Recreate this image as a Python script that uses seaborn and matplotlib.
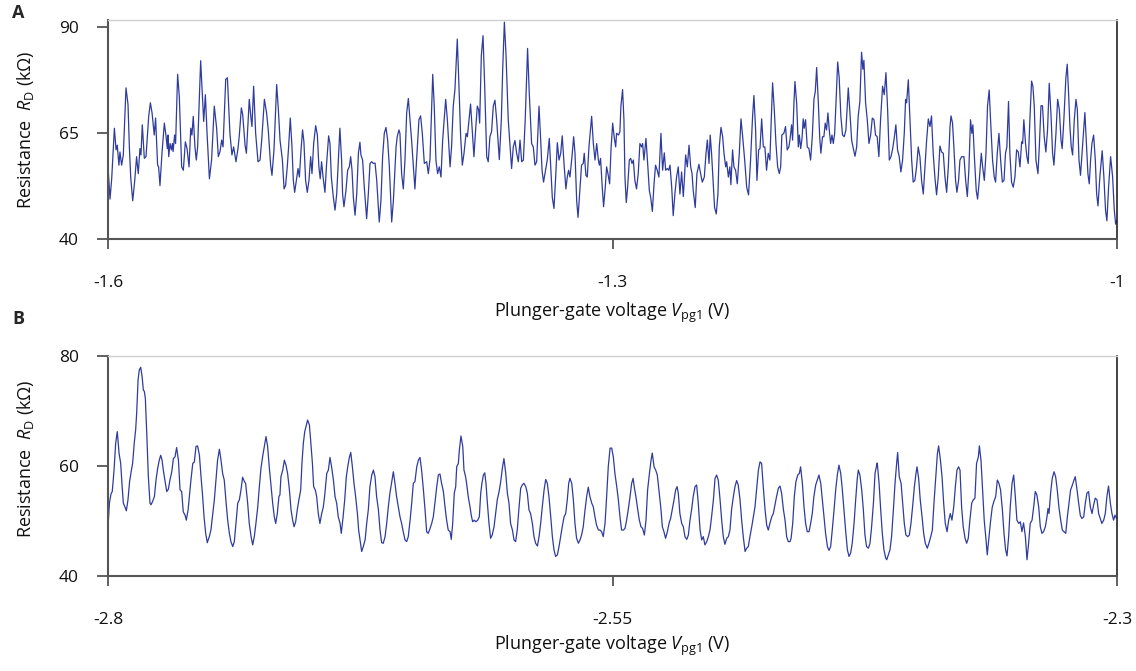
import matplotlib
matplotlib.use("Agg")
import matplotlib.pyplot as plt
import pandas as pd
import seaborn as sns

# ---------------- Panel A data: plunger-gate voltage (V) and resistance (kOhm) ----------------
a1_v = [-1.5998, -1.5988, -1.5978, -1.5962, -1.5952, -1.5945, -1.5935, -1.5929, -1.5919, -1.5909,
        -1.5893, -1.5881, -1.5873, -1.5865, -1.5853, -1.5841, -1.5830, -1.5820, -1.5810, -1.5804,
        -1.5796, -1.5784, -1.5774, -1.5758, -1.5748, -1.5738, -1.5730, -1.5725, -1.5717, -1.5705,
        -1.5699, -1.5691, -1.5679, -1.5665, -1.5657, -1.5647, -1.5643, -1.5639, -1.5631, -1.5623,
        -1.5617, -1.5613, -1.5604, -1.5598, -1.5586, -1.5576, -1.5562, -1.5552, -1.5540, -1.5530,
        -1.5518, -1.5508, -1.5501, -1.5493, -1.5483, -1.5475, -1.5467, -1.5449, -1.5431, -1.5421,
        -1.5411, -1.5397, -1.5384, -1.5368, -1.5354, -1.5344, -1.5334, -1.5324, -1.5316, -1.5300,
        -1.5290, -1.5275, -1.5263, -1.5253, -1.5239, -1.5227, -1.5219, -1.5207, -1.5199, -1.5185,
        -1.5177, -1.5160, -1.5150, -1.5144, -1.5134, -1.5122, -1.5108, -1.5096, -1.5086, -1.5070,
        -1.5057, -1.5047, -1.5033, -1.5025, -1.5013, -1.4997, -1.4987, -1.4977, -1.4963]
a1_r = [55.8, 49.4, 54.2, 66.1, 61.0, 62.1, 57.4, 60.5, 57.4, 59.8,
        75.6, 71.7, 61.7, 54.6, 49.0, 53.8, 59.4, 55.4, 61.3, 59.8,
        66.9, 59.0, 59.4, 68.9, 72.1, 69.7, 66.5, 64.5, 68.5, 57.4,
        57.0, 52.6, 60.2, 67.3, 64.9, 61.3, 64.5, 59.4, 62.5, 61.0,
        62.5, 60.6, 64.5, 62.5, 78.8, 73.6, 57.0, 56.2, 62.9, 61.3,
        57.0, 66.1, 64.5, 68.9, 61.7, 58.6, 61.7, 82.0, 67.7, 74.0,
        64.9, 54.2, 58.6, 71.3, 66.1, 59.4, 60.6, 63.3, 61.7, 77.6,
        78.0, 64.9, 59.8, 61.7, 58.2, 61.3, 64.5, 70.9, 69.3, 62.1,
        60.2, 72.9, 68.5, 66.5, 76.0, 64.9, 58.2, 58.6, 63.3, 72.9,
        69.7, 65.7, 57.4, 55.0, 61.0, 76.4, 70.5, 63.3, 58.6]

a2_v = [-1.4953, -1.4944, -1.4934, -1.4926, -1.4916, -1.4906, -1.4898, -1.4890, -1.4880, -1.4870,
        -1.4862, -1.4852, -1.4843, -1.4835, -1.4825, -1.4815, -1.4805, -1.4795, -1.4787, -1.4777,
        -1.4765, -1.4755, -1.4746, -1.4738, -1.4730, -1.4720, -1.4710, -1.4700, -1.4688, -1.4680,
        -1.4672, -1.4660, -1.4650, -1.4640, -1.4630, -1.4621, -1.4611, -1.4605, -1.4597, -1.4585,
        -1.4575, -1.4565, -1.4557, -1.4549, -1.4541, -1.4531, -1.4521, -1.4511, -1.4502, -1.4496,
        -1.4486, -1.4476, -1.4462, -1.4452, -1.4442, -1.4432, -1.4422, -1.4412, -1.4402, -1.4387,
        -1.4377, -1.4367, -1.4357, -1.4347, -1.4337, -1.4327, -1.4313, -1.4303, -1.4287, -1.4280,
        -1.4270, -1.4264, -1.4254, -1.4244, -1.4234, -1.4224, -1.4214, -1.4204, -1.4194, -1.4184,
        -1.4175, -1.4165, -1.4151, -1.4141, -1.4131, -1.4119, -1.4105, -1.4095, -1.4085, -1.4069,
        -1.4060, -1.4050, -1.4040, -1.4030, -1.4020, -1.4010, -1.3992, -1.3982, -1.3966]
a2_r = [51.8, 52.6, 57.0, 61.7, 68.5, 61.7, 53.8, 51.0, 53.8, 56.6,
        54.6, 61.0, 65.7, 62.9, 53.8, 51.0, 53.8, 59.4, 55.4, 62.5,
        66.7, 64.5, 57.0, 54.2, 58.2, 54.2, 51.0, 57.8, 64.3, 62.5,
        54.6, 49.8, 46.8, 50.6, 58.6, 66.1, 58.6, 50.6, 47.6, 51.4,
        56.2, 57.0, 59.4, 56.2, 49.8, 45.6, 50.6, 60.2, 62.8, 59.8,
        58.6, 52.2, 44.8, 50.6, 57.8, 58.2, 57.8, 57.9, 53.8, 44.0,
        49.0, 59.4, 64.9, 66.3, 63.3, 57.0, 44.0, 49.0, 61.7, 64.1,
        65.7, 64.9, 55.4, 51.8, 58.6, 69.7, 73.1, 68.1, 62.9, 57.0,
        51.8, 58.6, 68.1, 69.0, 64.9, 57.8, 58.2, 55.4, 59.0, 78.8,
        71.3, 58.6, 55.4, 57.0, 54.6, 63.3, 72.9, 68.1, 57.0]

a3_v = [-1.3957, -1.3947, -1.3937, -1.3923, -1.3913, -1.3903, -1.3893, -1.3883, -1.3871, -1.3863,
        -1.3855, -1.3844, -1.3834, -1.3824, -1.3814, -1.3804, -1.3796, -1.3790, -1.3780, -1.3770,
        -1.3760, -1.3748, -1.3739, -1.3729, -1.3719, -1.3709, -1.3699, -1.3689, -1.3673, -1.3661,
        -1.3653, -1.3643, -1.3633, -1.3620, -1.3600, -1.3590, -1.3580, -1.3570, -1.3560, -1.3550,
        -1.3540, -1.3530, -1.3519, -1.3505, -1.3495, -1.3481, -1.3471, -1.3461, -1.3451, -1.3437,
        -1.3427, -1.3419, -1.3410, -1.3400, -1.3388, -1.3376, -1.3366, -1.3358, -1.3348, -1.3338,
        -1.3328, -1.3318, -1.3308, -1.3299, -1.3287, -1.3277, -1.3269, -1.3261, -1.3253, -1.3241,
        -1.3231, -1.3223, -1.3213, -1.3205, -1.3194, -1.3184, -1.3174, -1.3168, -1.3158, -1.3150,
        -1.3140, -1.3124, -1.3114, -1.3104, -1.3094, -1.3084, -1.3078, -1.3071, -1.3061, -1.3053,
        -1.3043, -1.3035, -1.3027, -1.3017, -1.3009, -1.2999, -1.2989, -1.2981, -1.2976, -1.2964,
        -1.2956]
a3_r = [61.7, 71.3, 75.2, 87.1, 76.0, 64.1, 57.4, 60.2, 64.9, 64.1,
        67.3, 71.8, 65.7, 59.4, 65.7, 71.3, 70.5, 67.3, 83.2, 87.9,
        76.0, 59.4, 58.2, 64.1, 65.3, 71.3, 72.7, 68.1, 58.7, 68.1,
        80.0, 91.1, 83.2, 68.1, 56.6, 61.7, 63.2, 60.2, 58.2, 63.3,
        58.2, 58.6, 68.1, 84.9, 74.4, 62.5, 61.7, 57.4, 58.2, 71.3,
        63.3, 56.2, 53.4, 55.8, 58.6, 63.7, 56.2, 49.8, 47.2, 54.6,
        62.7, 58.6, 60.2, 64.3, 57.0, 51.8, 54.6, 56.2, 54.6, 59.4,
        64.1, 60.2, 49.0, 45.1, 51.4, 57.4, 57.8, 60.2, 55.0, 54.6,
        61.7, 68.9, 62.5, 58.6, 62.5, 58.6, 57.4, 59.0, 52.2, 47.6,
        52.2, 57.0, 55.4, 53.0, 61.0, 67.3, 63.7, 61.7, 64.9, 64.5,
        65.3]

a4_v = [-1.2950, -1.2940, -1.2932, -1.2926, -1.2918, -1.2910, -1.2900, -1.2892, -1.2884, -1.2876,
        -1.2867, -1.2857, -1.2847, -1.2837, -1.2827, -1.2821, -1.2813, -1.2801, -1.2791, -1.2781,
        -1.2773, -1.2763, -1.2753, -1.2744, -1.2734, -1.2724, -1.2712, -1.2702, -1.2692, -1.2684,
        -1.2674, -1.2666, -1.2658, -1.2648, -1.2639, -1.2629, -1.2619, -1.2609, -1.2599, -1.2589,
        -1.2579, -1.2573, -1.2565, -1.2555, -1.2545, -1.2535, -1.2527, -1.2520, -1.2508, -1.2498,
        -1.2486, -1.2476, -1.2466, -1.2454, -1.2444, -1.2436, -1.2426, -1.2419, -1.2411, -1.2401,
        -1.2393, -1.2383, -1.2373, -1.2365, -1.2355, -1.2345, -1.2337, -1.2327, -1.2321, -1.2311,
        -1.2302, -1.2296, -1.2286, -1.2278, -1.2268, -1.2258, -1.2246, -1.2236, -1.2226, -1.2214,
        -1.2202, -1.2191, -1.2179, -1.2167, -1.2159, -1.2149, -1.2141, -1.2131, -1.2123, -1.2113,
        -1.2103, -1.2094, -1.2084, -1.2074, -1.2064, -1.2056, -1.2048, -1.2038, -1.2028, -1.2018,
        -1.2008, -1.2000, -1.1993, -1.1981, -1.1971, -1.1961, -1.1951, -1.1945]
a4_r = [71.3, 75.2, 68.1, 54.6, 48.6, 52.2, 58.6, 59.0, 57.8, 58.6,
        53.8, 51.8, 55.4, 62.5, 61.7, 62.5, 58.6, 63.7, 57.8, 51.4,
        49.8, 46.5, 53.0, 57.4, 56.2, 54.6, 64.9, 56.2, 60.3, 56.2,
        56.6, 56.2, 57.4, 52.2, 45.5, 50.6, 54.6, 57.0, 50.6, 55.8,
        50.0, 53.8, 59.8, 57.0, 62.1, 57.0, 55.4, 51.4, 47.4, 55.4,
        57.6, 55.4, 53.4, 54.6, 60.2, 63.3, 57.8, 64.5, 60.2, 53.0,
        47.4, 45.9, 50.6, 61.7, 66.3, 64.1, 60.2, 57.0, 58.2, 54.6,
        57.0, 52.8, 61.0, 57.0, 56.2, 53.0, 60.2, 68.3, 64.1, 58.6,
        52.2, 50.4, 58.6, 68.9, 73.8, 65.7, 53.8, 61.0, 61.3, 68.3,
        61.7, 61.7, 56.2, 60.2, 58.6, 68.1, 76.8, 70.5, 62.5, 57.0,
        55.4, 57.0, 64.5, 64.9, 66.5, 61.0, 61.7, 63.3]

a5_v = [-1.1935, -1.1929, -1.1921, -1.1915, -1.1905, -1.1895, -1.1889, -1.1881, -1.1873, -1.1866,
        -1.1860, -1.1852, -1.1842, -1.1832, -1.1822, -1.1812, -1.1802, -1.1794, -1.1786, -1.1776,
        -1.1768, -1.1761, -1.1751, -1.1743, -1.1735, -1.1727, -1.1719, -1.1711, -1.1703, -1.1695,
        -1.1687, -1.1679, -1.1671, -1.1661, -1.1652, -1.1642, -1.1632, -1.1622, -1.1612, -1.1598,
        -1.1588, -1.1578, -1.1568, -1.1558, -1.1548, -1.1539, -1.1529, -1.1519, -1.1511, -1.1505,
        -1.1495, -1.1485, -1.1475, -1.1465, -1.1455, -1.1445, -1.1436, -1.1426, -1.1416, -1.1406,
        -1.1394, -1.1384, -1.1374, -1.1364, -1.1354, -1.1344, -1.1334, -1.1325, -1.1315, -1.1305,
        -1.1295, -1.1285, -1.1275, -1.1265, -1.1257, -1.1251, -1.1241, -1.1231, -1.1221, -1.1212,
        -1.1202, -1.1192, -1.1182, -1.1172, -1.1162, -1.1152, -1.1142, -1.1132, -1.1122, -1.1112,
        -1.1103, -1.1093, -1.1083, -1.1073, -1.1063, -1.1053, -1.1043, -1.1033, -1.1023, -1.1013,
        -1.1003, -1.0993, -1.0987, -1.0978, -1.0970, -1.0960, -1.0952, -1.0942, -1.0934]
a5_r = [66.9, 63.3, 72.1, 77.1, 72.1, 61.7, 64.5, 61.3, 63.7, 68.3,
        66.1, 68.1, 61.7, 61.3, 58.6, 64.1, 72.9, 74.8, 80.4, 72.1,
        64.1, 60.2, 64.1, 64.1, 67.3, 65.7, 69.7, 65.7, 62.5, 64.5,
        62.5, 64.9, 72.1, 81.7, 78.0, 68.9, 64.5, 64.1, 65.7, 75.6,
        69.7, 63.3, 61.3, 59.5, 61.7, 68.9, 72.4, 84.0, 80.0, 82.1,
        72.1, 68.1, 62.5, 64.5, 68.5, 68.1, 64.5, 64.1, 59.4, 68.1,
        76.0, 74.0, 79.2, 70.5, 58.6, 59.4, 61.3, 63.7, 66.9, 61.0,
        59.4, 55.8, 58.6, 64.9, 72.9, 72.1, 77.5, 68.1, 58.6, 53.4,
        53.8, 57.0, 61.7, 59.4, 53.8, 50.6, 57.0, 63.3, 68.3, 66.5,
        69.0, 60.2, 54.6, 50.4, 54.6, 61.9, 60.5, 60.2, 54.6, 51.0,
        57.0, 66.5, 69.0, 67.3, 61.7, 53.8, 51.0, 53.8, 58.6]

a6_v = [-1.0924, -1.0910, -1.0900, -1.0890, -1.0881, -1.0871, -1.0863, -1.0857, -1.0847, -1.0837,
        -1.0829, -1.0819, -1.0807, -1.0799, -1.0789, -1.0779, -1.0770, -1.0760, -1.0750, -1.0740,
        -1.0730, -1.0722, -1.0712, -1.0702, -1.0692, -1.0682, -1.0672, -1.0663, -1.0655, -1.0645,
        -1.0637, -1.0627, -1.0617, -1.0607, -1.0597, -1.0587, -1.0577, -1.0567, -1.0561, -1.0554,
        -1.0544, -1.0536, -1.0528, -1.0518, -1.0508, -1.0500, -1.0492, -1.0482, -1.0470, -1.0462,
        -1.0452, -1.0443, -1.0433, -1.0423, -1.0413, -1.0403, -1.0393, -1.0383, -1.0375, -1.0363,
        -1.0353, -1.0343, -1.0333, -1.0326, -1.0316, -1.0304, -1.0296, -1.0288, -1.0280, -1.0272,
        -1.0264, -1.0254, -1.0244, -1.0236, -1.0226, -1.0217, -1.0205, -1.0191, -1.0181, -1.0173,
        -1.0165, -1.0157, -1.0149, -1.0139, -1.0129, -1.0121, -1.0113, -1.0102, -1.0088, -1.0078,
        -1.0068, -1.0060, -1.0050, -1.0038, -1.0026, -1.0016, -1.0008, -1.0002]
a6_r = [59.4, 59.4, 53.8, 50.0, 56.2, 68.1, 64.9, 66.9, 58.6, 51.4,
        49.4, 53.8, 60.2, 57.0, 53.8, 60.2, 71.3, 75.1, 66.5, 58.6,
        54.6, 53.4, 60.2, 64.9, 58.6, 53.4, 53.8, 60.2, 61.7, 72.4,
        60.2, 53.4, 52.2, 54.6, 61.0, 60.5, 57.0, 62.9, 62.5, 68.1,
        62.5, 59.4, 57.8, 68.1, 77.2, 76.0, 71.3, 58.6, 55.4, 61.7,
        71.4, 71.4, 64.1, 60.5, 65.7, 76.7, 69.7, 60.2, 57.4, 64.9,
        72.9, 70.5, 63.3, 61.3, 68.1, 78.0, 81.2, 74.4, 66.5, 61.7,
        59.8, 68.1, 72.9, 70.5, 58.6, 55.0, 61.7, 69.8, 61.7, 55.4,
        53.0, 58.6, 62.5, 64.5, 58.6, 50.6, 47.8, 54.6, 60.8, 54.6,
        46.7, 44.3, 52.2, 59.4, 54.6, 46.7, 43.5, 44.3]

# ---------------- Panel B data ----------------
b1_v = [-2.7998, -2.7993, -2.7985, -2.7979, -2.7974, -2.7969, -2.7962, -2.7954, -2.7945, -2.7937,
        -2.7931, -2.7924, -2.7916, -2.7909, -2.7901, -2.7893, -2.7884, -2.7878, -2.7870, -2.7863,
        -2.7858, -2.7851, -2.7845, -2.7838, -2.7831, -2.7825, -2.7820, -2.7815, -2.7808, -2.7800,
        -2.7792, -2.7787, -2.7779, -2.7770, -2.7762, -2.7754, -2.7746, -2.7739, -2.7732, -2.7726,
        -2.7718, -2.7709, -2.7701, -2.7693, -2.7684, -2.7676, -2.7668, -2.7660, -2.7651, -2.7643,
        -2.7635, -2.7627, -2.7618, -2.7612, -2.7603, -2.7597, -2.7589, -2.7580, -2.7572, -2.7564,
        -2.7556, -2.7547, -2.7539, -2.7531, -2.7524, -2.7516, -2.7508, -2.7498, -2.7490, -2.7481,
        -2.7473, -2.7465, -2.7457, -2.7448, -2.7440, -2.7432, -2.7424, -2.7415, -2.7407, -2.7399,
        -2.7391, -2.7382, -2.7374, -2.7366, -2.7357, -2.7349, -2.7341, -2.7333, -2.7324, -2.7318,
        -2.7308, -2.7300, -2.7291, -2.7283, -2.7275, -2.7267, -2.7258, -2.7250, -2.7242, -2.7234,
        -2.7225, -2.7217, -2.7209, -2.7201, -2.7192, -2.7184, -2.7176, -2.7169, -2.7161, -2.7153,
        -2.7148]
b1_r = [50.1, 53.2, 54.9, 55.3, 57.4, 59.8, 64.1, 66.2, 62.2, 60.4,
        56.8, 53.2, 52.5, 51.8, 53.8, 57.1, 59.2, 60.4, 64.1, 66.5,
        69.5, 75.6, 77.4, 77.9, 76.2, 73.8, 73.5, 72.3, 65.9, 58.0,
        53.2, 52.9, 53.5, 54.4, 57.4, 59.5, 61.0, 61.9, 61.0, 59.2,
        57.4, 55.3, 55.7, 57.4, 58.9, 61.3, 61.6, 63.3, 61.0, 55.6,
        55.3, 51.6, 51.0, 50.1, 52.0, 54.4, 57.4, 60.4, 60.7, 63.5,
        63.6, 61.9, 58.0, 54.4, 50.7, 47.7, 46.0, 47.1, 48.3, 51.3,
        53.8, 57.4, 61.0, 63.0, 61.0, 58.6, 57.4, 53.4, 50.1, 47.8,
        46.2, 45.3, 46.2, 49.5, 53.2, 53.8, 55.6, 57.9, 57.1, 56.8,
        53.2, 49.5, 47.1, 45.6, 47.1, 49.5, 52.5, 56.2, 59.5, 61.6,
        63.5, 65.3, 63.5, 59.8, 56.2, 53.2, 50.7, 49.5, 51.3, 54.4,
        54.7]

b2_v = [-2.7143, -2.7134, -2.7126, -2.7118, -2.7110, -2.7101, -2.7093, -2.7085, -2.7078, -2.7070,
        -2.7062, -2.7054, -2.7045, -2.7039, -2.7032, -2.7025, -2.7019, -2.7011, -2.7002, -2.6996,
        -2.6987, -2.6981, -2.6973, -2.6966, -2.6958, -2.6950, -2.6941, -2.6933, -2.6925, -2.6916,
        -2.6908, -2.6900, -2.6892, -2.6883, -2.6875, -2.6867, -2.6859, -2.6850, -2.6844, -2.6835,
        -2.6827, -2.6819, -2.6812, -2.6804, -2.6797, -2.6789, -2.6781, -2.6773, -2.6764, -2.6758,
        -2.6751, -2.6743, -2.6735, -2.6726, -2.6718, -2.6710, -2.6702, -2.6693, -2.6685, -2.6677,
        -2.6669, -2.6660, -2.6652, -2.6644, -2.6636, -2.6627, -2.6619, -2.6611, -2.6603, -2.6594,
        -2.6586, -2.6578, -2.6570, -2.6561, -2.6553, -2.6545, -2.6537, -2.6528, -2.6520, -2.6512,
        -2.6503, -2.6495, -2.6487, -2.6479, -2.6470, -2.6462, -2.6454, -2.6446, -2.6437, -2.6429,
        -2.6421, -2.6413, -2.6404, -2.6396, -2.6388, -2.6380, -2.6371, -2.6363, -2.6355, -2.6347,
        -2.6338, -2.6330, -2.6322, -2.6314, -2.6305]
b2_r = [58.0, 59.2, 61.0, 60.1, 58.6, 55.6, 52.0, 50.1, 48.9, 49.8,
        52.0, 53.8, 55.6, 60.4, 64.1, 66.2, 67.1, 68.3, 67.4, 64.7,
        60.4, 56.2, 55.6, 54.4, 51.3, 49.5, 51.3, 52.5, 55.0, 58.6,
        59.2, 61.5, 59.8, 57.4, 54.4, 53.2, 50.7, 49.5, 47.7, 50.7,
        53.8, 58.0, 59.8, 61.5, 62.4, 59.8, 56.8, 54.4, 51.3, 48.3,
        46.5, 44.4, 45.3, 46.5, 49.5, 52.0, 56.2, 58.3, 59.2, 58.0,
        54.4, 52.0, 48.3, 46.0, 45.9, 47.1, 49.5, 52.5, 55.0, 57.1,
        58.9, 56.8, 54.4, 52.5, 50.7, 49.5, 48.0, 46.5, 46.2, 47.1,
        50.1, 53.2, 56.8, 57.1, 59.8, 61.0, 61.5, 59.2, 55.6, 52.0,
        48.0, 47.7, 48.6, 49.5, 50.7, 53.2, 56.2, 58.3, 58.5, 56.8,
        55.3, 52.5, 50.1, 48.3, 48.0]

b3_v = [-2.6299, -2.6292, -2.6284, -2.6277, -2.6272, -2.6264, -2.6259, -2.6251, -2.6242, -2.6236,
        -2.6228, -2.6223, -2.6215, -2.6206, -2.6200, -2.6193, -2.6185, -2.6177, -2.6168, -2.6160,
        -2.6153, -2.6147, -2.6140, -2.6133, -2.6127, -2.6120, -2.6112, -2.6104, -2.6096, -2.6087,
        -2.6079, -2.6071, -2.6062, -2.6054, -2.6046, -2.6038, -2.6029, -2.6021, -2.6013, -2.6005,
        -2.5996, -2.5988, -2.5980, -2.5972, -2.5963, -2.5955, -2.5947, -2.5939, -2.5930, -2.5922,
        -2.5914, -2.5906, -2.5897, -2.5889, -2.5881, -2.5872, -2.5864, -2.5856, -2.5848, -2.5839,
        -2.5831, -2.5823, -2.5815, -2.5806, -2.5798, -2.5790, -2.5782, -2.5773, -2.5765, -2.5757,
        -2.5749, -2.5740, -2.5732, -2.5724, -2.5717, -2.5711, -2.5702, -2.5694, -2.5686, -2.5678,
        -2.5669, -2.5661, -2.5653, -2.5645, -2.5636, -2.5628, -2.5620, -2.5612, -2.5603, -2.5595,
        -2.5587, -2.5579, -2.5570, -2.5562, -2.5554, -2.5546, -2.5537, -2.5529, -2.5521, -2.5512,
        -2.5504, -2.5496, -2.5488, -2.5479, -2.5471, -2.5463]
b3_r = [46.6, 49.5, 55.0, 56.2, 59.8, 60.4, 62.8, 65.4, 63.5, 59.2,
        58.0, 56.8, 54.4, 52.5, 51.0, 49.8, 50.1, 49.8, 50.1, 50.7,
        55.0, 56.8, 58.3, 58.7, 56.8, 53.2, 49.5, 46.8, 47.4, 48.9,
        51.3, 53.8, 55.3, 57.1, 59.5, 61.3, 58.6, 55.0, 53.2, 49.5,
        48.3, 46.5, 46.2, 48.3, 52.5, 55.9, 56.5, 56.8, 56.2, 55.0,
        52.0, 51.3, 49.5, 47.1, 45.9, 45.4, 47.1, 49.5, 52.5, 55.6,
        57.5, 56.8, 54.4, 50.7, 47.1, 44.7, 43.5, 43.8, 45.3, 47.1,
        48.9, 50.7, 51.3, 53.8, 56.8, 57.7, 56.8, 53.8, 49.5, 46.8,
        45.9, 46.5, 47.4, 48.9, 52.0, 54.4, 56.1, 54.4, 53.2, 52.5,
        50.7, 49.2, 48.3, 48.3, 48.0, 47.1, 49.5, 54.4, 59.8, 63.2,
        63.2, 61.6, 58.6, 56.2, 53.8, 50.7]

b4_v = [-2.5455, -2.5446, -2.5438, -2.5430, -2.5422, -2.5413, -2.5405, -2.5398, -2.5390, -2.5384,
        -2.5375, -2.5367, -2.5359, -2.5351, -2.5342, -2.5334, -2.5326, -2.5317, -2.5309, -2.5303,
        -2.5294, -2.5286, -2.5278, -2.5270, -2.5261, -2.5253, -2.5245, -2.5237, -2.5228, -2.5220,
        -2.5212, -2.5204, -2.5195, -2.5187, -2.5180, -2.5174, -2.5166, -2.5157, -2.5149, -2.5141,
        -2.5132, -2.5124, -2.5116, -2.5108, -2.5100, -2.5091, -2.5083, -2.5075, -2.5066, -2.5058,
        -2.5050, -2.5042, -2.5033, -2.5025, -2.5017, -2.5009, -2.5000, -2.4992, -2.4984, -2.4976,
        -2.4967, -2.4959, -2.4951, -2.4943, -2.4934, -2.4926, -2.4918, -2.4910, -2.4901, -2.4893,
        -2.4885, -2.4877, -2.4868, -2.4860, -2.4852, -2.4843, -2.4835, -2.4827, -2.4819, -2.4810,
        -2.4802, -2.4794, -2.4786, -2.4777, -2.4769, -2.4761, -2.4753, -2.4744, -2.4736, -2.4728,
        -2.4720, -2.4711, -2.4703, -2.4695, -2.4687, -2.4678, -2.4670, -2.4662, -2.4653, -2.4645,
        -2.4637, -2.4629, -2.4620]
b4_r = [48.3, 48.3, 48.6, 50.1, 52.0, 54.4, 56.8, 57.7, 55.6, 54.4,
        52.0, 50.1, 48.9, 48.6, 47.4, 50.1, 55.6, 58.6, 61.0, 62.3,
        59.8, 59.2, 58.3, 55.6, 52.5, 48.9, 48.0, 46.8, 48.0, 49.5,
        50.4, 52.0, 53.8, 55.6, 56.2, 55.0, 51.3, 49.5, 48.9, 47.1,
        46.6, 47.4, 50.1, 52.0, 54.4, 56.2, 56.5, 53.2, 48.3, 46.5,
        47.1, 45.6, 46.2, 47.1, 48.3, 50.7, 53.8, 57.7, 58.3, 57.4,
        53.8, 50.1, 47.1, 45.7, 46.8, 47.1, 48.3, 52.0, 54.4, 56.2,
        57.3, 56.5, 53.8, 50.1, 47.1, 44.4, 45.0, 45.3, 47.1, 48.9,
        50.7, 52.5, 55.6, 59.2, 60.7, 60.4, 56.2, 52.0, 49.2, 48.3,
        49.5, 50.7, 51.3, 52.9, 54.4, 55.9, 56.3, 55.0, 52.0, 50.1,
        47.1, 46.2, 46.2]

b5_v = [-2.4615, -2.4607, -2.4599, -2.4591, -2.4582, -2.4574, -2.4568, -2.4559, -2.4551, -2.4543,
        -2.4535, -2.4526, -2.4518, -2.4510, -2.4502, -2.4493, -2.4485, -2.4477, -2.4468, -2.4460,
        -2.4452, -2.4444, -2.4435, -2.4427, -2.4419, -2.4411, -2.4402, -2.4394, -2.4386, -2.4378,
        -2.4369, -2.4361, -2.4353, -2.4345, -2.4336, -2.4328, -2.4320, -2.4312, -2.4303, -2.4295,
        -2.4287, -2.4282, -2.4274, -2.4265, -2.4257, -2.4249, -2.4241, -2.4232, -2.4224, -2.4216,
        -2.4207, -2.4199, -2.4191, -2.4188, -2.4179, -2.4171, -2.4163, -2.4155, -2.4146, -2.4141,
        -2.4133, -2.4125, -2.4117, -2.4108, -2.4100, -2.4092, -2.4087, -2.4079, -2.4070, -2.4062,
        -2.4054, -2.4046, -2.4037, -2.4029, -2.4021, -2.4013, -2.4004, -2.3996, -2.3991, -2.3983,
        -2.3975, -2.3966, -2.3958, -2.3950, -2.3940, -2.3932, -2.3923, -2.3915, -2.3907, -2.3899,
        -2.3890, -2.3884, -2.3875, -2.3867, -2.3859, -2.3851, -2.3842, -2.3834, -2.3826, -2.3818,
        -2.3809, -2.3801, -2.3793, -2.3785, -2.3778]
b5_r = [46.8, 49.5, 54.4, 57.1, 58.3, 58.6, 59.8, 56.8, 52.5, 49.5,
        48.0, 48.0, 49.5, 51.3, 54.4, 56.5, 57.4, 58.3, 56.8, 53.8,
        50.7, 47.7, 45.3, 44.6, 45.3, 48.3, 52.0, 55.6, 58.3, 60.1,
        58.6, 55.6, 52.0, 48.3, 44.7, 43.5, 44.1, 45.9, 49.5, 53.8,
        57.7, 59.2, 58.3, 55.6, 52.0, 47.4, 45.3, 45.0, 45.9, 48.9,
        53.2, 58.6, 60.1, 60.5, 56.8, 52.0, 47.7, 44.7, 43.2, 42.9,
        43.8, 44.7, 47.1, 52.0, 56.8, 60.4, 62.4, 58.0, 56.8, 53.2,
        49.5, 47.4, 47.1, 47.4, 49.5, 52.5, 56.2, 58.6, 59.8, 57.7,
        53.8, 50.7, 47.7, 45.9, 45.0, 45.9, 47.1, 48.3, 53.2, 57.4,
        62.2, 63.6, 61.0, 58.0, 53.2, 49.5, 48.0, 50.1, 51.3, 50.1,
        52.5, 56.2, 59.2, 59.8, 59.2]

b6_v = [-2.3770, -2.3762, -2.3753, -2.3745, -2.3737, -2.3729, -2.3720, -2.3712, -2.3704, -2.3696,
        -2.3687, -2.3682, -2.3674, -2.3666, -2.3658, -2.3649, -2.3643, -2.3634, -2.3626, -2.3618,
        -2.3610, -2.3601, -2.3593, -2.3585, -2.3577, -2.3568, -2.3560, -2.3552, -2.3545, -2.3537,
        -2.3529, -2.3520, -2.3512, -2.3504, -2.3496, -2.3487, -2.3479, -2.3471, -2.3463, -2.3454,
        -2.3446, -2.3438, -2.3430, -2.3421, -2.3413, -2.3405, -2.3397, -2.3388, -2.3380, -2.3372,
        -2.3364, -2.3355, -2.3347, -2.3342, -2.3337, -2.3329, -2.3321, -2.3312, -2.3304, -2.3296,
        -2.3288, -2.3279, -2.3271, -2.3263, -2.3254, -2.3246, -2.3238, -2.3230, -2.3221, -2.3213,
        -2.3207, -2.3198, -2.3190, -2.3182, -2.3174, -2.3165, -2.3157, -2.3149, -2.3141, -2.3132,
        -2.3124, -2.3116, -2.3108, -2.3099, -2.3091, -2.3083, -2.3075, -2.3066, -2.3058, -2.3050,
        -2.3042, -2.3033, -2.3025, -2.3017, -2.3010, -2.3002]
b6_r = [52.5, 48.9, 46.8, 45.9, 46.8, 50.1, 53.2, 53.8, 54.1, 60.4,
        61.6, 63.6, 61.0, 55.6, 50.1, 46.5, 43.8, 47.1, 50.1, 52.5,
        53.5, 54.4, 57.4, 56.8, 55.6, 52.0, 47.7, 44.7, 43.6, 47.1,
        52.5, 56.8, 58.3, 54.4, 50.1, 49.5, 49.8, 48.0, 49.6, 47.1,
        42.9, 45.9, 49.5, 50.1, 52.5, 55.3, 54.7, 52.5, 48.9, 47.7,
        48.0, 48.9, 50.7, 52.2, 51.3, 55.0, 57.7, 58.9, 58.0, 55.6,
        52.5, 50.1, 48.3, 48.0, 47.7, 50.7, 53.2, 55.6, 56.5, 57.4,
        58.0, 55.6, 53.2, 51.0, 50.4, 50.7, 53.2, 55.0, 55.3, 52.5,
        51.3, 52.8, 54.1, 53.8, 51.3, 50.4, 49.5, 50.1, 51.3, 54.4,
        56.3, 53.2, 51.3, 50.1, 51.0, 50.4]

# ---------------- ticks / labels ----------------
xticks_a = [-1.6, -1.3, -1.0]
xtick_labels_a = ["-1.6", "-1.3", "-1"]
yticks_a = [40, 65, 90]
xticks_b = [-2.8, -2.55, -2.3]
xtick_labels_b = ["-2.8", "-2.55", "-2.3"]
yticks_b = [40, 60, 80]
xlabel = "Plunger-gate voltage $V_{\\mathrm{pg1}}$ (V)"
ylabel = "Resistance  $R_{\\mathrm{D}}$ (k\u03a9)"

# ---------------- style ----------------
sns.set_theme(style="ticks")
plt.rcParams["font.family"] = ["Open Sans", "DejaVu Sans"]
plt.rcParams["mathtext.fontset"] = "custom"
plt.rcParams["mathtext.rm"] = "Open Sans"
plt.rcParams["mathtext.it"] = "Open Sans:italic"
plt.rcParams["mathtext.bf"] = "Open Sans:bold"

LINE = "#2f3c9e"
SPINE = "#555555"
FS = 12.5

dfA = pd.DataFrame({"V": a1_v + a2_v + a3_v + a4_v + a5_v + a6_v,
                    "R": a1_r + a2_r + a3_r + a4_r + a5_r + a6_r})
dfB = pd.DataFrame({"V": b1_v + b2_v + b3_v + b4_v + b5_v + b6_v,
                    "R": b1_r + b2_r + b3_r + b4_r + b5_r + b6_r})

W, H = 1136, 671
fig = plt.figure(figsize=(W / 100, H / 100), dpi=100)
axA = fig.add_axes([108 / W, 1 - 239 / H, 1009 / W, 219 / H])
axB = fig.add_axes([108 / W, 1 - 575.7 / H, 1009 / W, 220 / H])

sns.lineplot(data=dfA, x="V", y="R", ax=axA, sort=False, estimator=None,
             color=LINE, linewidth=0.9)
sns.lineplot(data=dfB, x="V", y="R", ax=axB, sort=False, estimator=None,
             color=LINE, linewidth=0.9)


def style(ax, xt, xtl, yt, xlim, ylim, xlab_y, ylab_y):
    ax.set_xlim(*xlim)
    ax.set_ylim(*ylim)
    ax.set_xticks(xt)
    ax.set_xticklabels(xtl)
    ax.set_yticks(yt)
    ax.set_yticklabels([str(v) for v in yt])
    ax.tick_params(axis="x", direction="out", length=7, width=1.3, color=SPINE,
                   pad=19, labelsize=FS, labelcolor="#111111")
    ax.tick_params(axis="y", direction="out", length=8, width=1.3, color=SPINE,
                   pad=13, labelsize=FS, labelcolor="#111111")
    for side in ["left", "bottom"]:
        ax.spines[side].set_color(SPINE)
        ax.spines[side].set_linewidth(1.5)
    ax.spines["right"].set_color("#222222")
    ax.spines["right"].set_linewidth(1.2)
    ax.spines["top"].set_color("#cfcfcf")
    ax.spines["top"].set_linewidth(1.0)
    ax.set_xlabel(xlabel, fontsize=FS + 0.5, color="#111111")
    ax.set_ylabel(ylabel, fontsize=FS + 0.5, color="#111111")
    ax.xaxis.set_label_coords(0.5, xlab_y)
    ax.xaxis.label.set_va("center")
    ax.yaxis.set_label_coords(-0.082, ylab_y)
    ax.yaxis.label.set_va("center")


style(axA, xticks_a, xtick_labels_a, yticks_a, (-1.6, -1.0), (40, 91.6), -0.338, 0.5)
style(axB, xticks_b, xtick_labels_b, yticks_b, (-2.8, -2.3), (40, 80), -0.32, 0.53)

fig.text(12 / W, 1 - 13 / H, "A", fontsize=13, fontweight="bold", va="center", ha="left")
fig.text(12 / W, 1 - 319 / H, "B", fontsize=13, fontweight="bold", va="center", ha="left")

fig.savefig("out.png", dpi=100)
